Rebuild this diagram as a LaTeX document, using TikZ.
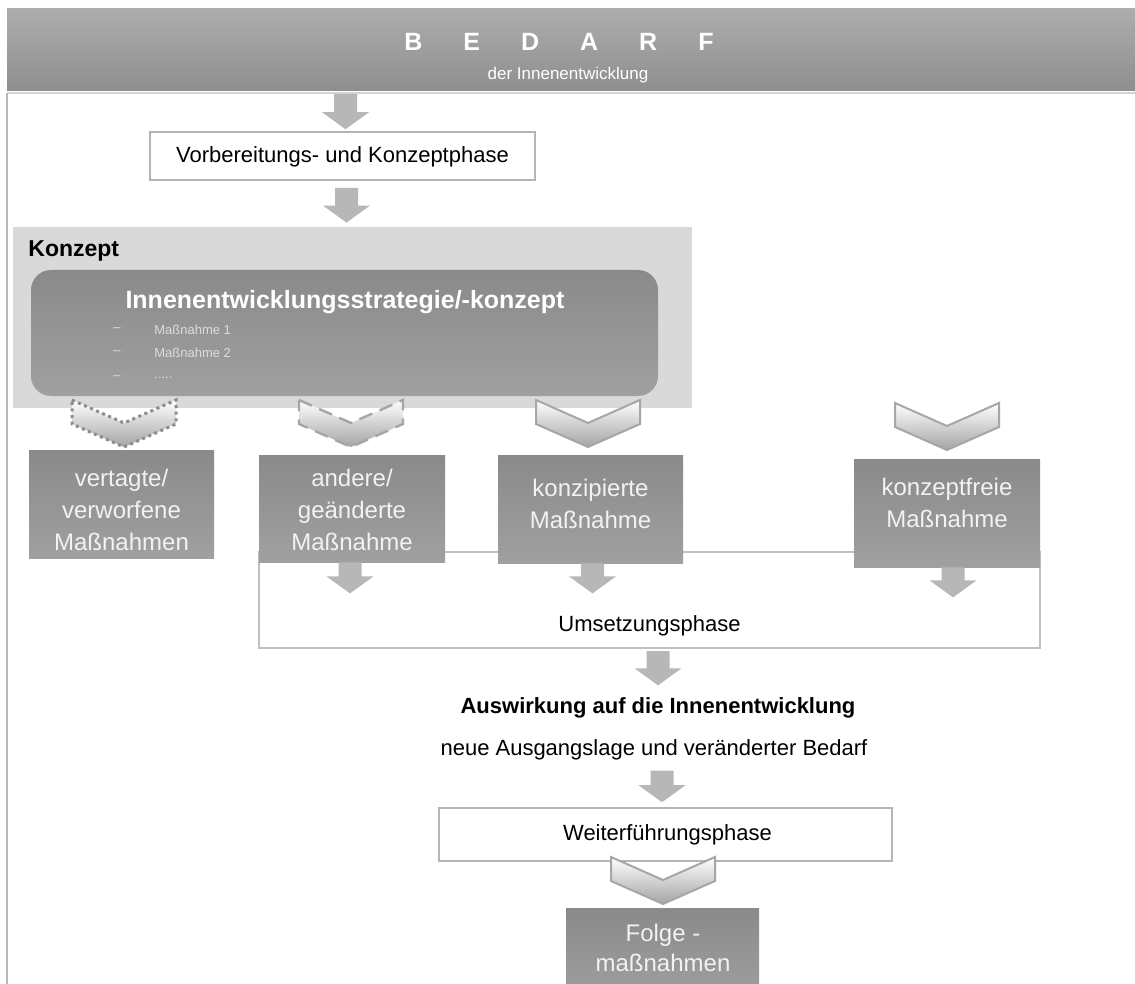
\documentclass[tikz,border=0pt]{standalone}
\usepackage{fontspec}
\setmainfont{Liberation Sans}
\usetikzlibrary{fit,calc}
\definecolor{bannertop}{HTML}{ADADAD}
\definecolor{bannerbot}{HTML}{8E8E8E}
\definecolor{bannerline}{HTML}{D4D4D4}
\definecolor{konzeptbg}{HTML}{D9D9D9}
\definecolor{darktop}{HTML}{8A8A8A}
\definecolor{darkbot}{HTML}{A0A0A0}
\definecolor{arrowgray}{HTML}{B7B7B7}
\definecolor{framegray}{HTML}{B5B5B5}
\definecolor{chevline}{HTML}{A6A6A6}
\definecolor{chevbot}{HTML}{A4A4A4}
\definecolor{lighttext}{HTML}{F2F2F2}
\definecolor{itemtext}{HTML}{DCDCDC}
\definecolor{leftline}{HTML}{B8B8B8}

\newcommand{\blockarrow}[2]{%
  \fill[arrowgray] let \p1=#1, \p2=#2 in
   (\x1-5.75pt,\y1) -- (\x1+5.75pt,\y1) -- (\x1+5.75pt,\y2+8.5pt) --
   (\x1+11.75pt,\y2+8.5pt) -- (\x1,\y2) -- (\x1-11.75pt,\y2+8.5pt) --
   (\x1-5.75pt,\y2+8.5pt) -- cycle;}

\tikzset{
  chev/.pic={\path[pic actions] (-52,0) -- (0,23) -- (52,0) -- (52,24) -- (0,47) -- (-52,24) -- cycle;},
  chevstyle/.style={draw=chevline, line width=1pt, line join=miter, top color=white, bottom color=chevbot},
  frame/.style={draw=framegray, line width=0.8pt, fill=white, inner sep=0pt},
  darkbox/.style={top color=darktop, bottom color=darkbot, inner sep=0pt},
  darktext/.style={text=lighttext, align=center, inner sep=0pt, font=\fontsize{12}{16}\selectfont},
  txt/.style={inner sep=0pt, font=\fontsize{11}{13}\selectfont, text=black},
  plain/.style={inner sep=0pt}
}

\begin{document}
\begin{tikzpicture}[x=0.5pt,y=-0.5pt]
\useasboundingbox (0,0) rectangle (1135,984);
\clip (0,0) rectangle (1135,984);
\fill[white] (0,0) rectangle (1135,984);

% banner
\node (banner) [plain, fit={(7,9)(1135,91)}, top color=bannertop, bottom color=bannerbot] {};
\draw[bannerline, line width=1pt] ($(banner.south west)+(0,1.5)$) -- ($(banner.south east)+(0,1.5)$);
\node (bedarf) [plain, text=white, font=\fontsize{12.5}{14}\selectfont\bfseries] at (559,42)
  {B\hskip20.5pt E\hskip20.5pt D\hskip20.5pt A\hskip20.5pt R\hskip20.5pt F};
\node (bedarfsub) [plain, text=white, font=\fontsize{8.5}{10}\selectfont] at (568,75) {der Innenentwicklung};

% left line
\draw[leftline, line width=1.2pt] (7,93) -- (7,990);

% Vorbereitungs box
\node (vorb) [frame, fit={(150,132)(535,180)}] {};
\node (vorbtext) [txt] at ($(vorb.center)+(0,1)$) {Vorbereitungs- und Konzeptphase};
\blockarrow{($(vorb.north)+(3,-37)$)}{($(vorb.north)+(3,-2)$)}

% Konzept
\node (konzept) [plain, fill=konzeptbg, fit={(13,227)(692,408)}] {};
\blockarrow{($(vorb.south)+(4,7)$)}{($(konzept.north -| vorb.south)+(4,-4)$)}
\node (konzeptlabel) [plain, anchor=west, font=\fontsize{11.5}{13}\selectfont\bfseries] at (28,251) {Konzept};
\node (strat) [plain, rounded corners=10pt, top color=darktop, bottom color=darkbot, fit={(31,270)(658,396)}] {};
\node (strattitle) [plain, text=white, font=\fontsize{12.5}{14}\selectfont\bfseries] at (345,302) {Innenentwicklungsstrategie/-konzept};
\node (d1) [plain, text=itemtext, font=\fontsize{6.5}{8}\selectfont] at (117,330) {--};
\node (d2) [plain, text=itemtext, font=\fontsize{6.5}{8}\selectfont] at (117,353) {--};
\node (d3) [plain, text=itemtext, font=\fontsize{6.5}{8}\selectfont] at (117,378) {--};
\node (m1) [plain, anchor=west, text=itemtext, font=\fontsize{6.5}{8}\selectfont] at (154,330) {Maßnahme 1};
\node (m2) [plain, anchor=west, text=itemtext, font=\fontsize{6.5}{8}\selectfont] at (154,353) {Maßnahme 2};
\node (m3) [plain, anchor=west, text=itemtext, font=\fontsize{6.5}{8}\selectfont] at (154,378) {.....};

% chevrons
\pic[chevstyle, draw=gray!90, line width=1.5pt, dash pattern=on 1.5pt off 1.8pt] at (124,400) {chev};
\pic[chevstyle, dash pattern=on 7pt off 4pt, line width=1.2pt] at (351,400) {chev};
\pic[chevstyle] at (588,400) {chev};
\pic[chevstyle] at (947,403) {chev};

% Umsetzungsphase
\node (umsetz) [frame, draw=framegray!85, line width=1pt, fit={(259,552)(1040,648)}] {};
\node (umsetztext) [txt] at ($(umsetz.south)+(0,-23)$) {Umsetzungsphase};

% measure boxes
\node (b1) [darkbox, fit={(29,450)(214,558)}] {};
\node (b1text) [darktext] at ($(b1.center)+(0,6)$) {vertagte/\\verworfene\\Maßnahmen};
\node (b2) [darkbox, fit={(259,455)(445,562)}] {};
\node (b2text) [darktext] at ($(b2.center)+(0,1)$) {andere/\\geänderte\\Maßnahme};
\node (b3) [darkbox, fit={(498,455)(683,563)}] {};
\node (b3text) [darktext] at ($(b3.center)+(0,-5)$) {konzipierte\\Maßnahme};
\node (b4) [darkbox, fit={(854,459)(1040,567)}] {};
\node (b4text) [darktext] at ($(b4.center)+(0,-10)$) {konzeptfreie\\Maßnahme};

\blockarrow{($(b2.south)+(-2,0)$)}{($(b2.south)+(-2,31)$)}
\blockarrow{($(b3.south)+(2,0)$)}{($(b3.south)+(2,30)$)}
\blockarrow{($(b4.south)+(6,0)$)}{($(b4.south)+(6,30)$)}

% outcome
\node (ausw) [txt, font=\fontsize{11}{13}\selectfont\bfseries] at (658,708) {Auswirkung auf die Innenentwicklung};
\node (neue) [txt] at (654,750) {neue Ausgangslage und veränderter Bedarf};
\blockarrow{($(umsetz.south -| ausw.north)+(0,2)$)}{($(ausw.north)+(0,-12)$)}

\node (weiter) [frame, fit={(439,808)(892,861)}] {};
\node (weitertext) [txt] at ($(weiter.center)+(2,0)$) {Weiterführungsphase};
\blockarrow{($(neue.south)+(8,10)$)}{($(weiter.north -| neue.south)+(8,-5)$)}

\node (folge) [darkbox, fit={(566,908)(759,1000)}] {};
\node (folgetext) [darktext, font=\fontsize{12}{15}\selectfont] at (663,948) {Folge -\\maßnahmen};
\pic[chevstyle] at (663,857) {chev};
\end{tikzpicture}
\end{document}
